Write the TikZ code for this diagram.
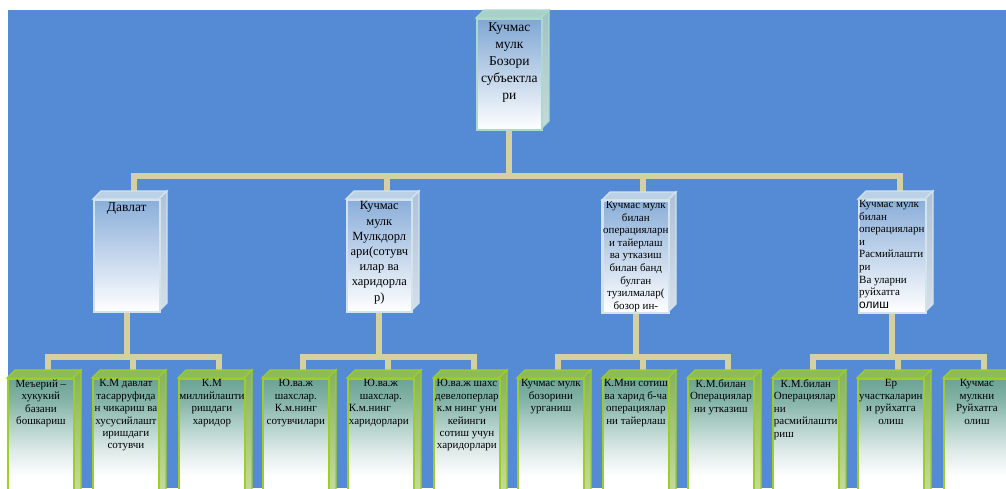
\documentclass[tikz,border=0pt]{standalone}
\usepackage{fontspec}
\setmainfont{Liberation Serif}
\newfontfamily\sansf{Liberation Sans}
\usetikzlibrary{calc}
\definecolor{bgblue}{HTML}{558BD4}
\definecolor{conncol}{HTML}{D4D0A2}
\definecolor{tpfronttop}{HTML}{7FA7D3}
\definecolor{tpedge}{HTML}{ACD8CF}
\definecolor{tptopc}{HTML}{A9CFC9}
\definecolor{tpsidetop}{HTML}{A0C2C6}
\definecolor{tpsidebot}{HTML}{C8DADA}
\definecolor{blfronttop}{HTML}{8AAED9}
\definecolor{bledge}{HTML}{D2E3EE}
\definecolor{bltopc}{HTML}{BAD1E6}
\definecolor{blsidetop}{HTML}{AEC2D8}
\definecolor{blsidebot}{HTML}{D6DFE8}
\definecolor{grtopc}{HTML}{6BA394}
\definecolor{grmidA}{HTML}{86B4A9}
\definecolor{grmidB}{HTML}{B3D1CB}
\definecolor{grmidC}{HTML}{DFEBE9}
\definecolor{gredge}{HTML}{9DCD28}
\definecolor{grtopface}{HTML}{8CBB58}
\definecolor{grsidetop}{HTML}{86B25A}
\definecolor{grsidebot}{HTML}{CCE0A0}
\pgfdeclareverticalshading{grfade}{100bp}{color(0bp)=(white); color(25bp)=(white); color(36bp)=(white); color(46bp)=(grmidC); color(56bp)=(grmidB); color(66bp)=(grmidA); color(75bp)=(grtopc); color(100bp)=(grtopc)}
\pgfdeclarelayer{bglayer}
\pgfdeclarelayer{connlayer}
\pgfsetlayers{bglayer,connlayer,main}
\newcommand\fsA{\fontsize{13.5pt}{17pt}\selectfont}
\newcommand\fsB{\fontsize{12.5pt}{15.2pt}\selectfont}
\newcommand\fsC{\fontsize{11pt}{12.6pt}\selectfont}
\newcommand\fsD{\fontsize{11pt}{12.4pt}\selectfont}
\newcommand\lft[1]{\makebox[64pt][l]{#1}}
\tikzset{
  conn/.style={draw=conncol, line width=6pt, line join=miter},
  tptop/.style={fill=tptopc, draw=tpedge, line width=1.2pt},
  tpside/.style={top color=tpsidetop, bottom color=tpsidebot, draw=tpedge, line width=1.2pt},
  tpfront/.style={rectangle, inner sep=0pt, top color=tpfronttop, bottom color=white, draw=tpedge, line width=1.6pt},
  bltop/.style={fill=bltopc, draw=bledge, line width=1.2pt},
  blside/.style={top color=blsidetop, bottom color=blsidebot, draw=bledge, line width=1.2pt},
  blfront/.style={rectangle, inner sep=0pt, top color=blfronttop, bottom color=white, draw=bledge, line width=1.6pt},
  grtop/.style={fill=grtopface, draw=gredge, line width=1.3pt},
  grside/.style={top color=grsidetop, bottom color=grsidebot, draw=gredge, line width=1.3pt},
  grfront/.style={rectangle, inner sep=0pt, shade, shading=grfade, draw=gredge, line width=1.8pt},
  txt/.style={inner sep=0pt, align=center, text=black},
  txtl/.style={inner sep=0pt, align=left, text=black}
}
% name, x, y, w, h, d, kind
\newcommand\cube[7]{%
  \path[#7top] ({#2},{#3}) -- ({#2+#6},{#3-#6}) -- ({#2+#4+#6},{#3-#6}) -- ({#2+#4},{#3}) -- cycle;
  \path[#7side] ({#2+#4},{#3}) -- ({#2+#4+#6},{#3-#6}) -- ({#2+#4+#6},{#3+#5-#6}) -- ({#2+#4},{#3+#5}) -- cycle;
  \node[#7front, anchor=north west, minimum width={#4}, minimum height={#5}] (#1) at ({#2},{#3}) {};
  \coordinate (#1in) at ({#2+#4/2+#6},{#3-#6});
}
\begin{document}
\begin{tikzpicture}[x=1pt,y=-1pt]
\useasboundingbox (0,0) rectangle (1006,488);
\begin{pgfonlayer}{bglayer}
  \fill[white] (0,0) rectangle (1006,488);
  \fill[bgblue] (8,10) rectangle (1006,488);
\end{pgfonlayer}
\clip (0,0) rectangle (1006,488);
% top
\cube{top}{476}{18}{65}{111}{8}{tp}
% level 2
\cube{b1}{93}{199}{66}{112}{8}{bl}
\cube{b2}{346}{199}{65}{112}{8}{bl}
\cube{b3}{602}{200}{66}{112}{8}{bl}
\cube{b4}{858}{199}{67}{113}{8}{bl}
% level 3
\cube{c1}{7}{378}{66}{125}{8}{gr}
\cube{c2}{92}{378}{66}{125}{8}{gr}
\cube{c3}{178}{378}{66}{125}{8}{gr}
\cube{c4}{262}{378}{66}{125}{8}{gr}
\cube{c5}{347}{378}{66}{125}{8}{gr}
\cube{c6}{433}{378}{66}{125}{8}{gr}
\cube{c7}{517}{378}{66}{125}{8}{gr}
\cube{c8}{602}{378}{66}{125}{8}{gr}
\cube{c9}{687}{378}{66}{125}{8}{gr}
\cube{c10}{772}{378}{66}{125}{8}{gr}
\cube{c11}{857}{378}{66}{125}{8}{gr}
\cube{c12}{943}{378}{66}{125}{8}{gr}
% texts
\node[txt, font=\fsA, anchor=north] (topt) at ($(top.north)+(0,4)$) {Кучмас\\мулк\\Бозори\\субъектла\\ри};
\node[txt, font=\fsA, anchor=north] (b1t) at ($(b1.north)+(0,3)$) {Давлат};
\node[txt, font=\fsB, anchor=north] (b2t) at ($(b2.north)+(0,2.5)$) {Кучмас\\мулк\\Мулкдорл\\ари(сотувч\\илар ва\\харидорла\\р)};
\begin{scope}
  \clip (b3.north west) rectangle (b3.south east);
  \node[txt, font=\fsC, anchor=north] (b3t) at ($(b3.north)+(0,1)$) {Кучмас мулк\\билан\\операцияларн\\и тайерлаш\\ва утказиш\\билан банд\\булган\\тузилмалар(\\бозор ин-};
\end{scope}
\draw[bledge, line width=1.6pt] (b3.north west) rectangle (b3.south east);
\node[txtl, font=\fsC, anchor=north west] (b4t) at ($(b4.north west)+(1,1)$) {Кучмас мулк\\билан\\операцияларн\\и\\Расмийлашти\\ри\\Ва уларни\\руйхатга\\{\sansf\fontsize{12pt}{12.6pt}\selectfont олиш}};
\node[txt, font=\fsD, anchor=north] (c1t) at ($(c1.north)+(0,1.5)$) {Меъерий –\\хукукий\\базани\\бошкариш};
\node[txt, font=\fsD, anchor=north] (c2t) at ($(c2.north)+(0,1.5)$) {К.М давлат\\тасарруфида\\н чикариш ва\\хусусийлашт\\иришдаги\\сотувчи};
\node[txt, font=\fsD, anchor=north] (c3t) at ($(c3.north)+(0,1.5)$) {К.М\\миллийлашти\\ришдаги\\харидор};
\node[txt, font=\fsD, anchor=north] (c4t) at ($(c4.north)+(0,1.5)$) {Ю.ва.ж\\шахслар.\\К.м.нинг\\сотувчилари};
\node[txt, font=\fsD, anchor=north] (c5t) at ($(c5.north)+(0,1.5)$) {Ю.ва.ж\\шахслар.\\\lft{К.м.нинг}\\\lft{харидорлари}};
\node[txt, font=\fsD, anchor=north] (c6t) at ($(c6.north)+(0,1.5)$) {Ю.ва.ж шахс\\девелоперлар\\к.м нинг уни\\кейинги\\сотиш учун\\харидорлари};
\node[txt, font=\fsD, anchor=north] (c7t) at ($(c7.north)+(0,1.5)$) {Кучмас мулк\\бозорини\\урганиш};
\node[txt, font=\fsD, anchor=north] (c8t) at ($(c8.north)+(0,1.5)$) {К.Мни сотиш\\ва харид б-ча\\операциялар\\ни тайерлаш};
\node[txt, font=\fsD, anchor=north] (c9t) at ($(c9.north)+(0,1.5)$) {К.М.билан\\Операциялар\\ни утказиш};
\node[txt, font=\fsD, anchor=north] (c10t) at ($(c10.north)+(0,1.5)$) {К.М.билан\\\lft{Операциялар}\\\lft{ни}\\\lft{расмийлашти}\\\lft{риш}};
\node[txt, font=\fsD, anchor=north] (c11t) at ($(c11.north)+(0,1.5)$) {Ер\\участкаларин\\и руйхатга\\олиш};
\node[txt, font=\fsD, anchor=north] (c12t) at ($(c12.north)+(0,1.5)$) {Кучмас\\мулкни\\Руйхатга\\олиш};
% connectors
\begin{pgfonlayer}{connlayer}
  \coordinate (bus0) at (0,176);
  \coordinate (bus1) at (0,357);
  \draw[conn] (top.south) -- (top.south |- bus0) -| (b1in);
  \draw[conn] (top.south) -- (top.south |- bus0) -| (b2in);
  \draw[conn] (top.south) -- (top.south |- bus0) -| (b3in);
  \draw[conn] (top.south) -- (top.south |- bus0) -| (b4in);
  \draw[conn] (b1.south) -- (b1.south |- bus1) -| (c1in);
  \draw[conn] (b1.south) -- (b1.south |- bus1) -| (c2in);
  \draw[conn] (b1.south) -- (b1.south |- bus1) -| (c3in);
  \draw[conn] (b2.south) -- (b2.south |- bus1) -| (c4in);
  \draw[conn] (b2.south) -- (b2.south |- bus1) -| (c5in);
  \draw[conn] (b2.south) -- (b2.south |- bus1) -| (c6in);
  \draw[conn] (b3.south) -- (b3.south |- bus1) -| (c7in);
  \draw[conn] (b3.south) -- (b3.south |- bus1) -| (c8in);
  \draw[conn] (b3.south) -- (b3.south |- bus1) -| (c9in);
  \draw[conn] (b4.south) -- (b4.south |- bus1) -| (c10in);
  \draw[conn] (b4.south) -- (b4.south |- bus1) -| (c11in);
  \draw[conn] (b4.south) -- (b4.south |- bus1) -| (c12in);
\end{pgfonlayer}
\end{tikzpicture}
\end{document}
